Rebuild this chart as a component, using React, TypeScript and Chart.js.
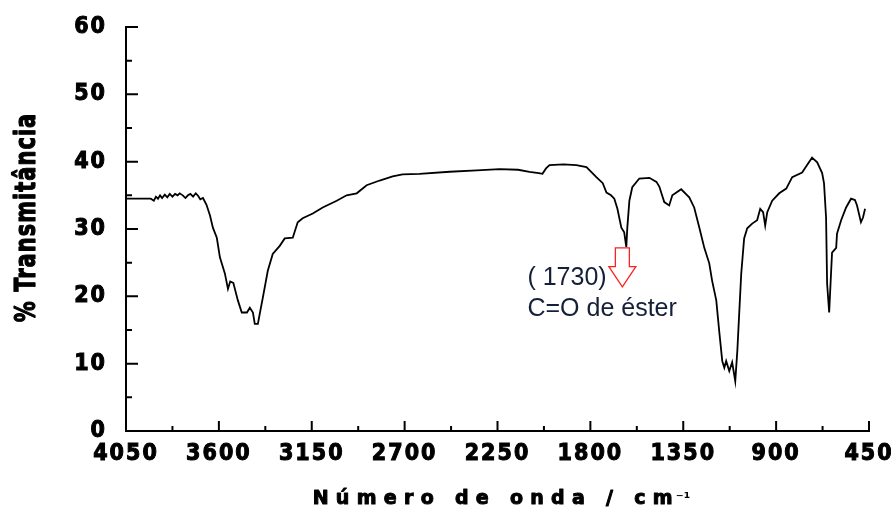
import React, { useEffect, useRef } from "react";
import { Chart, registerables } from "chart.js";

Chart.register(...registerables);

// ---- data ----
const wavenumbers: number[] = [
  4050, 3990, 3930, 3915, 3905, 3895, 3885, 3875, 3862, 3850,
  3838, 3825, 3812, 3800, 3790, 3775, 3762, 3750, 3738, 3725,
  3712, 3700, 3690, 3677, 3660, 3643, 3629, 3610, 3595, 3571,
  3556, 3545, 3530, 3508, 3489, 3464, 3450, 3435, 3426, 3411,
  3402, 3387, 3363, 3339, 3305, 3281, 3242, 3218, 3194, 3145,
  3097, 3029, 2981, 2932, 2884, 2821, 2758, 2710, 2628, 2482,
  2350, 2240, 2150, 2095, 2050, 2032, 2015, 1998, 1930, 1868,
  1819, 1771, 1740, 1722, 1700, 1684, 1669, 1650, 1636, 1626,
  1621, 1611, 1597, 1563, 1514, 1480, 1466, 1442, 1418, 1403,
  1360, 1321, 1297, 1272, 1248, 1224, 1210, 1190, 1176, 1161,
  1151, 1142, 1127, 1113, 1098, 1088, 1079, 1069, 1055, 1040,
  1016, 992, 977, 963, 953, 943, 919, 885, 851, 822,
  774, 750, 726, 701, 677, 668, 658, 653, 643, 634,
  629, 609, 605, 585, 561, 537, 518, 508, 489, 479,
  469,
];

const transmittance: number[] = [
  34.5, 34.5, 34.5, 34.2, 34.8, 34.5, 35.0, 34.6, 35.1, 34.7,
  35.2, 34.8, 35.2, 35.0, 35.3, 35.0, 34.6, 35.0, 35.2, 34.8,
  35.3, 34.9, 34.4, 34.6, 33.6, 32.0, 30.2, 28.7, 25.8, 23.4,
  21.1, 22.2, 22.0, 19.4, 17.6, 17.6, 18.3, 17.6, 15.9, 15.9,
  17.4, 19.8, 23.8, 26.3, 27.5, 28.6, 28.7, 31.0, 31.6, 32.3,
  33.2, 34.2, 35.0, 35.3, 36.5, 37.2, 37.8, 38.1, 38.2, 38.5,
  38.7, 38.9, 38.8, 38.5, 38.3, 38.2, 39.0, 39.5, 39.6, 39.5,
  39.2, 37.7, 36.8, 35.4, 35.0, 34.5, 33.0, 30.2, 29.5, 27.3,
  30.2, 34.2, 36.2, 37.5, 37.6, 37.0, 36.3, 34.0, 33.5, 35.0,
  35.9, 34.7, 33.2, 30.2, 27.2, 24.9, 22.3, 19.4, 14.9, 10.4,
  9.4, 10.4, 8.9, 10.2, 7.4, 11.9, 17.4, 23.4, 28.6, 30.1,
  30.8, 31.3, 33.0, 32.5, 30.5, 32.5, 34.2, 35.3, 36.0, 37.7,
  38.4, 39.5, 40.6, 39.9, 38.3, 36.8, 31.7, 21.9, 17.6, 23.4,
  26.5, 27.2, 29.3, 31.3, 33.2, 34.5, 34.3, 33.5, 31.0, 31.7,
  33.0,
];

const xTickValues: number[] = [4050, 3600, 3150, 2700, 2250, 1800, 1350, 900, 450];
const xMinorTickValues: number[] = [3825, 3375, 2925, 2475, 2025, 1575, 1125, 675];
const yTickValues: number[] = [0, 10, 20, 30, 40, 50, 60];
const yMinorTickValues: number[] = [5, 15, 25, 35, 45, 55];

const xTitleMain = "Número de onda / cm";
const xTitleSup = "⁻¹";
const yTitle = "% Transmitância";
const annotationLines: string[] = ["( 1730)", "C=O de éster"];
// annotation anchors in data units
const annotationTextWn = 2105;
const annotationTextT: number[] = [21.7, 17.1];
const arrowWn = 1645;
const arrowTopT = 27.2;
const arrowHeadT = 24.4;
const arrowTipT = 21.4;

const TICK_FONT_FAMILY = "'DejaVu Sans Condensed', 'DejaVu Sans', sans-serif";

export default function App() {
  const canvasRef = useRef<HTMLCanvasElement | null>(null);

  useEffect(() => {
    const canvas = canvasRef.current;
    if (!canvas) return;

    const decorPlugin = {
      id: "decor",
      beforeDraw(chart: any) {
        chart.ctx.letterSpacing = "2px";
      },
      beforeDatasetsDraw(chart: any) {
        chart.ctx.letterSpacing = "0px";
      },
      afterDraw(chart: any) {
        const ctx: CanvasRenderingContext2D = chart.ctx;
        const xs = chart.scales.x;
        const ys = chart.scales.y;
        const area = chart.chartArea;
        ctx.save();
        (ctx as any).letterSpacing = "0px";
        // inward tick marks
        ctx.strokeStyle = "#000";
        ctx.lineWidth = 2;
        ctx.beginPath();
        xTickValues.forEach((v) => {
          const px = xs.getPixelForValue(v);
          ctx.moveTo(px, area.bottom);
          ctx.lineTo(px, area.bottom - 10);
        });
        xMinorTickValues.forEach((v) => {
          const px = xs.getPixelForValue(v);
          ctx.moveTo(px, area.bottom);
          ctx.lineTo(px, area.bottom - 5);
        });
        yTickValues.forEach((v) => {
          const py = ys.getPixelForValue(v);
          ctx.moveTo(area.left, py);
          ctx.lineTo(area.left + 12, py);
        });
        yMinorTickValues.forEach((v) => {
          const py = ys.getPixelForValue(v);
          ctx.moveTo(area.left, py);
          ctx.lineTo(area.left + 6, py);
        });
        ctx.stroke();

        // arrow
        const ax = xs.getPixelForValue(arrowWn);
        const aTop = ys.getPixelForValue(arrowTopT);
        const aHead = ys.getPixelForValue(arrowHeadT);
        const aTip = ys.getPixelForValue(arrowTipT);
        ctx.beginPath();
        ctx.moveTo(ax - 7, aTop);
        ctx.lineTo(ax + 7, aTop);
        ctx.lineTo(ax + 7, aHead);
        ctx.lineTo(ax + 13.5, aHead);
        ctx.lineTo(ax, aTip);
        ctx.lineTo(ax - 13.5, aHead);
        ctx.lineTo(ax - 7, aHead);
        ctx.closePath();
        ctx.fillStyle = "#ffffff";
        ctx.fill();
        ctx.strokeStyle = "#ff2020";
        ctx.lineWidth = 1.3;
        ctx.stroke();

        // annotation text
        ctx.fillStyle = "#142038";
        ctx.font = "25px 'Liberation Sans', Arial, sans-serif";
        ctx.textAlign = "left";
        ctx.textBaseline = "alphabetic";
        const tx = xs.getPixelForValue(annotationTextWn);
        annotationLines.forEach((line, i) => {
          ctx.fillText(line, tx, ys.getPixelForValue(annotationTextT[i]));
        });

        // x axis title
        ctx.fillStyle = "#000";
        ctx.strokeStyle = "#000";
        ctx.lineWidth = 1;
        ctx.lineJoin = "round";
        ctx.font = "bold 19px 'DejaVu Sans', sans-serif";
        (ctx as any).letterSpacing = "7.3px";
        const xw = ctx.measureText(xTitleMain).width;
        (ctx as any).letterSpacing = "0px";
        ctx.font = "bold 15px 'DejaVu Sans', sans-serif";
        const sw = ctx.measureText(xTitleSup).width;
        const total = xw + sw;
        const xc = (area.left + area.right) / 2 + 6;
        const x0 = xc - total / 2;
        const base = area.bottom + 73;
        ctx.font = "bold 19px 'DejaVu Sans', sans-serif";
        (ctx as any).letterSpacing = "7.3px";
        ctx.fillText(xTitleMain, x0, base);
        ctx.strokeText(xTitleMain, x0, base);
        (ctx as any).letterSpacing = "0px";
        ctx.font = "bold 15px 'DejaVu Sans', sans-serif";
        ctx.fillText(xTitleSup, x0 + xw - 4, base - 1);

        // y axis title (rotated)
        ctx.save();
        ctx.translate(35, (area.top + area.bottom) / 2 - 11);
        ctx.rotate(-Math.PI / 2);
        ctx.scale(0.72, 1);
        ctx.font = "bold 29px 'DejaVu Sans', sans-serif";
        (ctx as any).letterSpacing = "1.5px";
        const yw = ctx.measureText(yTitle).width - 1.5;
        ctx.fillText(yTitle, -yw / 2, 0);
        ctx.lineWidth = 1.2;
        ctx.strokeText(yTitle, -yw / 2, 0);
        ctx.restore();

        ctx.restore();
      },
    };

    const chart = new Chart(canvas, {
      type: "line",
      data: {
        datasets: [
          {
            data: wavenumbers.map((w, i) => ({ x: w, y: transmittance[i] })),
            borderColor: "#000",
            borderWidth: 1.8,
            pointRadius: 0,
            tension: 0,
            fill: false,
          },
        ],
      },
      options: {
        animation: false,
        responsive: false,
        devicePixelRatio: 1,
        layout: { padding: { top: 27, right: 22, left: 0, bottom: 0 } },
        plugins: { legend: { display: false }, tooltip: { enabled: false } },
        scales: {
          x: {
            type: "linear",
            reverse: true,
            min: 450,
            max: 4050,
            afterBuildTicks: (scale: any) => {
              scale.ticks = xTickValues.map((v) => ({ value: v }));
            },
            afterFit: (scale: any) => {
              scale.height = 77;
              scale.paddingLeft = 0;
              scale.paddingRight = 0;
            },
            grid: { display: false, drawTicks: false, tickLength: 0 },
            border: { display: true, color: "#000", width: 2 },
            ticks: {
              color: "#000",
              textStrokeColor: "#000",
              textStrokeWidth: 1,
              padding: 9,
              maxRotation: 0,
              autoSkip: false,
              font: { family: TICK_FONT_FAMILY, size: 23, weight: "bold" },
              callback: (v: any) => String(v),
            },
          },
          y: {
            type: "linear",
            min: 0,
            max: 60,
            afterBuildTicks: (scale: any) => {
              scale.ticks = yTickValues.map((v) => ({ value: v }));
            },
            afterFit: (scale: any) => {
              scale.width = 126;
              scale.paddingTop = 0;
              scale.paddingBottom = 0;
            },
            grid: { display: false, drawTicks: false, tickLength: 0 },
            border: { display: true, color: "#000", width: 2 },
            ticks: {
              color: "#000",
              textStrokeColor: "#000",
              textStrokeWidth: 1,
              padding: 19,
              autoSkip: false,
              font: { family: TICK_FONT_FAMILY, size: 23, weight: "bold" },
              callback: (v: any) => String(v),
            },
          },
        },
      },
      plugins: [decorPlugin],
    } as any);

    return () => chart.destroy();
  }, []);

  return (
    <div style={{ position: "fixed", left: 0, top: 0, width: 891, height: 508, background: "#fff" }}>
      <canvas ref={canvasRef} width={891} height={508} style={{ width: 891, height: 508, display: "block" }} />
    </div>
  );
}
